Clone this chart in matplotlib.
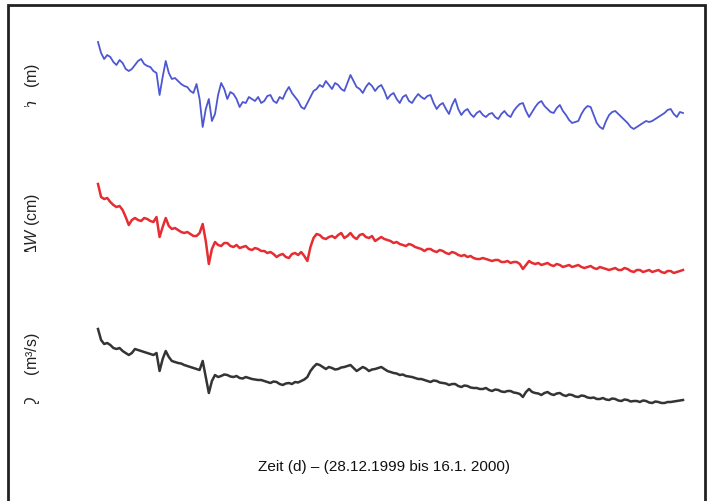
import numpy as np
import matplotlib.pyplot as plt
from matplotlib.patches import Rectangle
from matplotlib.transforms import Bbox, TransformedBbox

plt.rcParams['font.family'] = ['Liberation Sans', 'DejaVu Sans']
plt.rcParams['mathtext.fontset'] = 'custom'
plt.rcParams['mathtext.rm'] = 'Liberation Sans'
plt.rcParams['mathtext.it'] = 'Liberation Sans:italic'

# readings every 0.1 d, 28.12.1999 .. 16.1.2000
step_days = 0.1

h_m = [2.97, 2.86, 2.80, 2.84, 2.82, 2.77, 2.74, 2.79, 2.76, 2.70,
       2.68, 2.70, 2.74, 2.78, 2.80, 2.75, 2.73, 2.72, 2.68, 2.66,
       2.44, 2.62, 2.78, 2.66, 2.60, 2.61, 2.58, 2.55, 2.53, 2.52,
       2.48, 2.46, 2.55, 2.40, 2.12, 2.30, 2.40, 2.18, 2.25, 2.44,
       2.56, 2.50, 2.40, 2.47, 2.45, 2.40, 2.32, 2.37, 2.36, 2.42,
       2.40, 2.38, 2.42, 2.36, 2.38, 2.43, 2.44, 2.38, 2.36, 2.42,
       2.40, 2.47, 2.52, 2.46, 2.42, 2.38, 2.32, 2.30, 2.36, 2.42,
       2.48, 2.50, 2.54, 2.52, 2.58, 2.54, 2.50, 2.56, 2.54, 2.50,
       2.48, 2.56, 2.64, 2.58, 2.52, 2.50, 2.46, 2.52, 2.56, 2.53,
       2.48, 2.52, 2.54, 2.48, 2.40, 2.44, 2.46, 2.40, 2.36, 2.42,
       2.44, 2.38, 2.36, 2.41, 2.45, 2.42, 2.40, 2.43, 2.44, 2.36,
       2.30, 2.34, 2.36, 2.30, 2.25, 2.34, 2.40, 2.30, 2.24, 2.28,
       2.30, 2.25, 2.22, 2.26, 2.28, 2.24, 2.22, 2.25, 2.26, 2.22,
       2.20, 2.25, 2.28, 2.24, 2.22, 2.28, 2.32, 2.35, 2.36, 2.28,
       2.22, 2.27, 2.32, 2.36, 2.38, 2.33, 2.30, 2.27, 2.26, 2.31,
       2.34, 2.28, 2.24, 2.19, 2.16, 2.17, 2.18, 2.25, 2.30, 2.33,
       2.32, 2.24, 2.16, 2.12, 2.10, 2.18, 2.24, 2.27, 2.28, 2.25,
       2.22, 2.19, 2.16, 2.12, 2.10, 2.12, 2.14, 2.16, 2.18, 2.17,
       2.18, 2.20, 2.22, 2.24, 2.26, 2.29, 2.30, 2.25, 2.22, 2.27,
       2.26]

dw_cm = [52.5, 46.0, 45.0, 45.5, 43.5, 42.0, 41.0, 41.5, 39.5, 36.0,
         32.0, 34.5, 35.5, 34.5, 34.0, 35.5, 35.0, 34.0, 33.5, 36.0,
         26.0, 31.0, 35.5, 31.5, 30.0, 30.5, 29.5, 28.5, 28.0, 28.5,
         27.5, 26.5, 26.5, 28.0, 32.5, 24.0, 12.5, 20.0, 23.5, 22.0,
         21.5, 23.0, 23.0, 21.5, 21.0, 22.0, 20.5, 21.0, 21.5, 20.0,
         19.5, 20.5, 20.0, 19.0, 19.0, 18.0, 18.5, 17.5, 16.0, 17.0,
         17.5, 16.0, 15.5, 17.5, 18.0, 17.0, 18.5, 16.5, 14.0, 21.0,
         25.5, 27.5, 27.0, 25.5, 25.0, 26.0, 26.5, 25.5, 27.0, 28.0,
         25.5, 26.5, 28.0, 26.0, 25.0, 27.0, 27.5, 26.0, 25.5, 26.5,
         24.0, 25.0, 26.0, 25.0, 24.5, 24.0, 23.0, 23.5, 22.5, 22.0,
         21.5, 22.5, 22.0, 21.0, 20.5, 20.0, 19.0, 20.0, 20.0, 19.0,
         18.5, 19.5, 19.0, 18.0, 17.5, 18.5, 18.0, 17.0, 16.5, 17.0,
         16.0, 16.5, 15.5, 15.0, 15.0, 15.5, 15.0, 14.5, 14.0, 14.5,
         14.5, 13.5, 13.5, 14.0, 13.0, 13.5, 13.5, 12.5, 10.0, 12.0,
         14.0, 13.0, 12.5, 13.0, 12.0, 12.5, 13.0, 12.0, 11.5, 12.5,
         12.0, 11.0, 11.5, 12.0, 11.0, 11.5, 12.0, 11.0, 10.5, 11.0,
         11.5, 10.5, 10.0, 11.0, 10.5, 10.0, 9.5, 10.0, 10.5, 9.5,
         9.5, 10.5, 10.0, 9.0, 8.5, 9.5, 9.5, 8.5, 9.0, 9.5,
         8.5, 9.0, 9.5, 8.5, 8.0, 9.0, 9.0, 8.0, 8.5, 9.0,
         9.5]

q_m3s = [1900, 1790, 1750, 1760, 1740, 1710, 1700, 1710, 1680, 1660,
         1640, 1660, 1700, 1690, 1680, 1670, 1660, 1650, 1640, 1660,
         1480, 1600, 1680, 1620, 1580, 1570, 1560, 1555, 1540, 1530,
         1520, 1510, 1500, 1490, 1580, 1420, 1260, 1380, 1440, 1420,
         1430, 1445, 1440, 1425, 1420, 1430, 1410, 1405, 1420, 1410,
         1400, 1395, 1390, 1390, 1380, 1370, 1360, 1375, 1370, 1350,
         1340, 1355, 1360, 1350, 1370, 1365, 1380, 1395, 1420, 1480,
         1520, 1550, 1540, 1520, 1500, 1520, 1510, 1495, 1500, 1515,
         1520, 1530, 1540, 1510, 1480, 1500, 1520, 1505, 1480, 1495,
         1500, 1510, 1520, 1500, 1480, 1470, 1460, 1455, 1440, 1445,
         1430, 1425, 1420, 1410, 1400, 1400, 1390, 1380, 1370, 1385,
         1380, 1365, 1360, 1355, 1340, 1350, 1350, 1330, 1320, 1335,
         1330, 1315, 1310, 1310, 1300, 1300, 1310, 1290, 1280, 1295,
         1290, 1275, 1270, 1280, 1280, 1265, 1260, 1250, 1220, 1270,
         1300, 1270, 1260, 1255, 1240, 1260, 1270, 1250, 1240, 1255,
         1260, 1240, 1230, 1245, 1240, 1225, 1220, 1235, 1230, 1215,
         1210, 1215, 1200, 1200, 1210, 1195, 1190, 1205, 1200, 1185,
         1180, 1195, 1190, 1175, 1180, 1180, 1170, 1185, 1180, 1165,
         1160, 1175, 1170, 1160, 1160, 1170, 1170, 1175, 1180, 1185,
         1190]

labels = [r'$h$   (m)', r'$\Delta W$ (cm)', r'$Q$     (m³/s)']
x_label = 'Zeit (d) \u2013 (28.12.1999 bis 16.1. 2000)'

W, H = 712, 502
days = np.arange(len(h_m)) * step_days

fig = plt.figure(figsize=(W / 100, H / 100), dpi=100)

# pixel placement of each trace band: (top, bottom, ylim)
panels = [
    (h_m, '#3a45cc', 1.3, 30, 140, (2.0, 3.1)),
    (dw_cm, '#e3161c', 1.8, 170, 290, (0, 60)),
    (q_m3s, '#1e1e1e', 1.8, 310, 420, (1000, 2100)),
]
px_per_day = (683 - 98) / days[-1]
x_left, x_right = 90, 690

for data, color, lw, top, bottom, ylim in panels:
    ax = fig.add_axes([x_left / W, 1 - bottom / H, (x_right - x_left) / W, (bottom - top) / H])
    ax.plot(days, data, color=color, lw=lw, alpha=0.9)
    ax.set_xlim(-(98 - x_left) / px_per_day, days[-1] + (x_right - 683) / px_per_day)
    ax.set_ylim(*ylim)
    ax.axis('off')

# rotated labels, cut off at the lower end as in the original
label_pos = [(63, 108), (193, 253), (333, 405)]
for text, (ytop, yclip) in zip(labels, label_pos):
    t = fig.text(32 / W, 1 - ytop / H, text, rotation=90, ha='center', va='top',
                 fontsize=11.5, color='#222222')
    t.set_clip_box(TransformedBbox(Bbox.from_extents(0, 1 - yclip / H, 1, 1), fig.transFigure))
    t.set_clip_on(True)

fig.text(384 / W, 1 - 467 / H, x_label, ha='center', va='center', fontsize=11, color='#111111')

frame = Rectangle((8 / W, -0.02), 697 / W, (H - 6) / H + 0.02, transform=fig.transFigure,
                  fill=False, lw=2, ec='#222222', clip_on=False)
fig.add_artist(frame)

fig.savefig('out.png', dpi=100)
